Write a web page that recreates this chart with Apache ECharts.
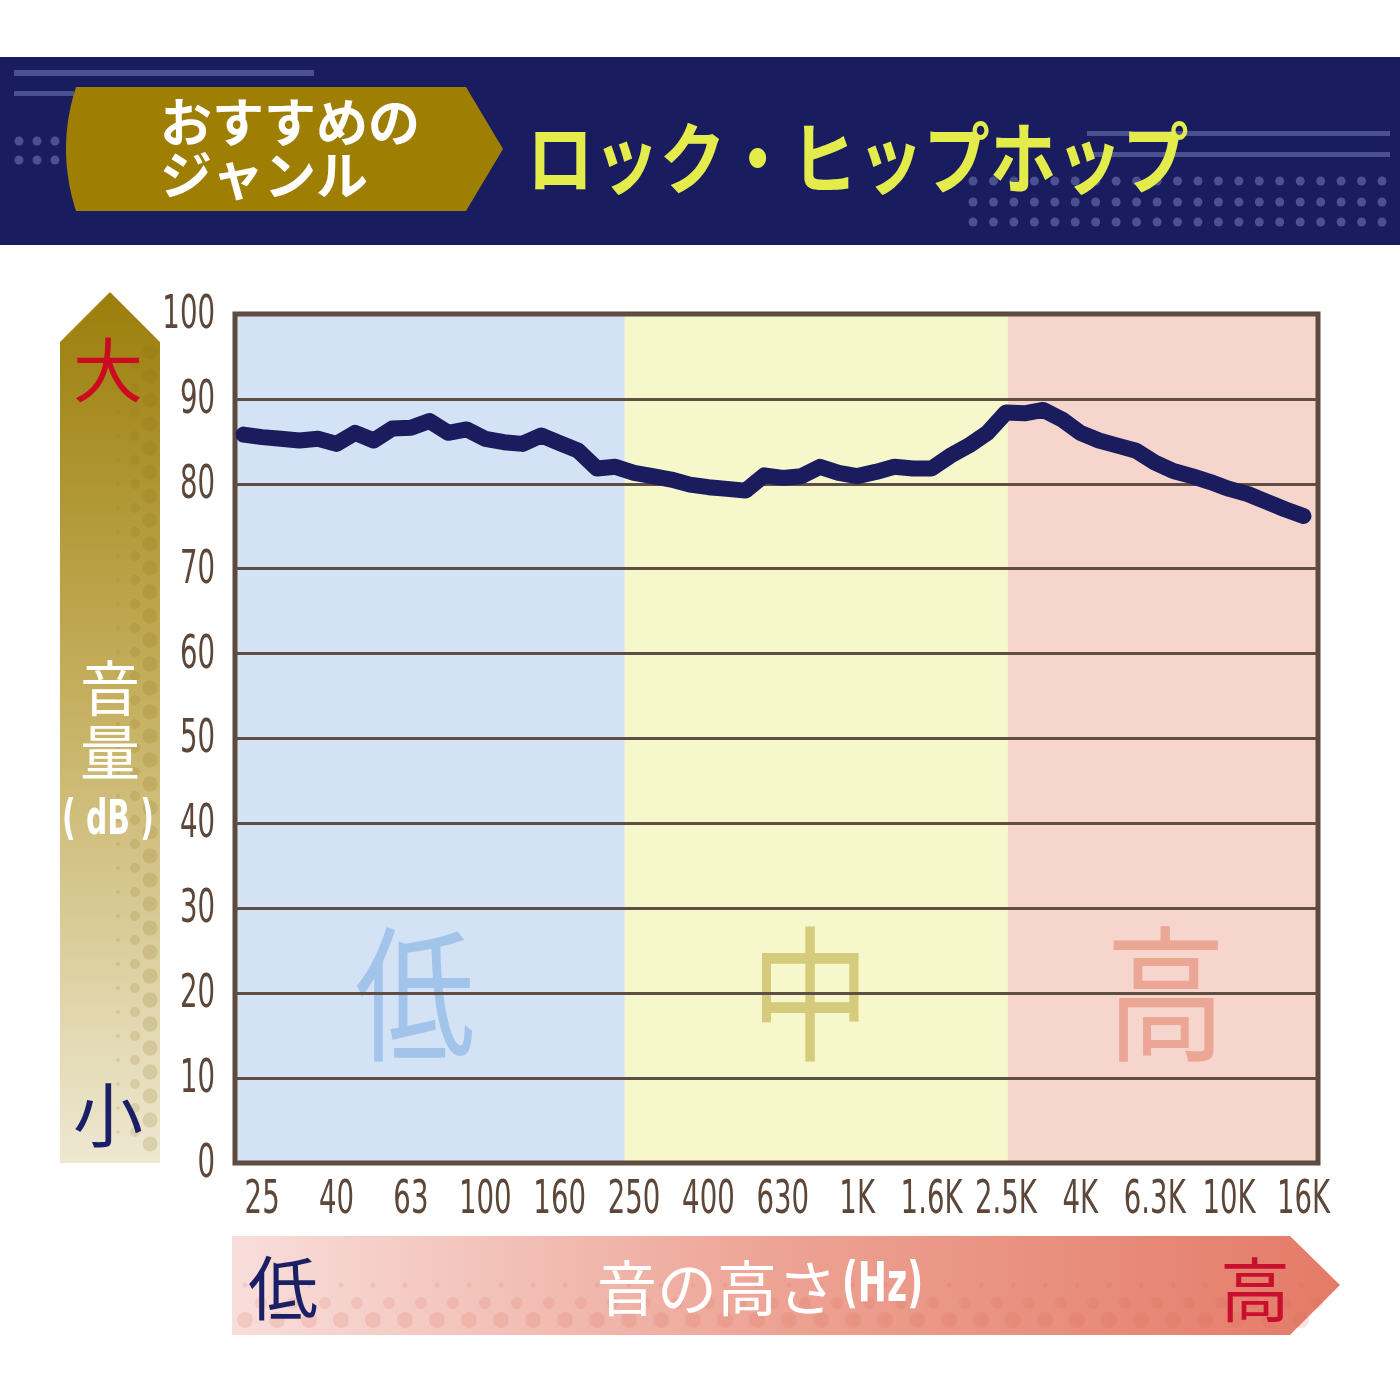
<!DOCTYPE html>
<html>
<head>
<meta charset="utf-8">
<script src="https://cdn.jsdelivr.net/npm/echarts@6/dist/echarts.min.js"></script>
<style>
  html, body { margin: 0; padding: 0; background: #fff; }
  #main { width: 1400px; height: 1400px; }
</style>
</head>
<body>
<div id="main"></div>
<script>
// x-axis tick labels, placed every 2nd third-octave band
const freqLabels = ['25', '40', '63', '100', '160', '250', '400', '630', '1K', '1.6K', '2.5K', '4K', '6.3K', '10K', '16K'];
const labelSteps = [0, 2, 4, 6, 8, 10, 12, 14, 16, 18, 20, 22, 24, 26, 28];

// measured level (dB), 1/6-octave points starting half a band below 25Hz
const levels = [
  85.8, 85.5, 85.3, 85.1, 85.3, 84.7, 86.0, 85.1, 86.5, 86.6,
  87.4, 86.0, 86.4, 85.3, 84.9, 84.7, 85.7, 84.8, 83.9, 81.8,
  82.0, 81.3, 80.9, 80.5, 79.9, 79.6, 79.4, 79.2, 81.0, 80.7,
  80.9, 82.0, 81.3, 80.9, 81.4, 82.0, 81.8, 81.8, 83.3, 84.5,
  86.0, 88.4, 88.3, 88.7, 87.6, 86.0, 85.1, 84.5, 83.9, 82.5,
  81.5, 80.9, 80.2, 79.4, 78.8, 77.9, 77.0, 76.2
];
const firstStep = -0.5;
const stepSize = 0.5;

// low / mid / high bands
const zoneNames = ['低', '中', '高'];
const zoneEdges = [-0.73, 9.75, 20.05, 28.39];
const zoneFill = ['#d3e3f5', '#f6f7cb', '#f6d5cd'];
const zoneText = ['#a3c4ea', '#d5cb7c', '#eca696'];
const zoneOffset = [-15, -6, 3];
const zoneTextLevel = 20;

const yTicks = [0, 100, 10];
const yLabels = ['0', '10', '20', '30', '40', '50', '60', '70', '80', '90', '100'];

const JP = "'Noto Sans CJK JP', sans-serif";
const COND = "'DejaVu Sans', sans-serif";
const BROWN = '#5c4739';

const chart = echarts.init(document.getElementById('main'));

const lineData = levels.map((v, i) => [firstStep + i * stepSize, v]);

const zoneData = zoneNames.map((name, i) => [
  { name: name, xAxis: zoneEdges[i], yAxis: yTicks[0], itemStyle: { color: zoneFill[i] } },
  { xAxis: zoneEdges[i + 1], yAxis: yTicks[1] }
]);

// helpers for the decorations
function dots(xs, ys, r, fill) {
  const out = [];
  ys.forEach(y => xs.forEach(x => {
    out.push({ type: 'circle', shape: { cx: x, cy: y, r: r }, style: { fill: fill }, silent: true });
  }));
  return out;
}
function range(a, b, s) {
  const r = [];
  for (let v = a; v <= b + 0.01; v += s) r.push(v);
  return r;
}
// tag shape with a bowed left side
function tagPoints() {
  const pts = [[76, 87], [466, 87], [503, 149], [466, 211], [76, 211]];
  for (let t = 0.05; t < 1; t += 0.05) {
    const u = 1 - t;
    pts.push([u * u * 76 + 2 * u * t * 56 + t * t * 76, u * u * 211 + 2 * u * t * 149 + t * t * 87]);
  }
  return pts;
}
function txt(x, y, text, font, fill, align, sx) {
  return {
    type: 'text', x: x, y: y, scaleX: sx || 1,
    style: { text: text, fill: fill, font: font, align: align || 'center', verticalAlign: 'middle' }
  };
}

const graphics = [
  // header band
  { type: 'rect', shape: { x: 0, y: 57, width: 1400, height: 188 }, style: { fill: '#191c5f' } },
  { type: 'rect', shape: { x: 14, y: 70, width: 300, height: 6 }, style: { fill: '#4b5091' } },
  { type: 'rect', shape: { x: 14, y: 91, width: 60, height: 5 }, style: { fill: '#4b5091' } },
  { type: 'rect', shape: { x: 1087, y: 131, width: 303, height: 5 }, style: { fill: '#4b5091' } },
  { type: 'rect', shape: { x: 1087, y: 152, width: 303, height: 5 }, style: { fill: '#4b5091' } },
  ...dots([19, 37, 55], [141, 160], 4.5, '#4b5091'),
  ...dots(range(973, 1382, 20.45), [181, 202, 222], 4.5, '#4b5091'),
  { type: 'polygon', shape: { points: tagPoints() }, style: { fill: '#9e7f04' } },
  txt(160, 122, 'おすすめの', 'bold 52px ' + JP, '#fff', 'left'),
  txt(160, 175, 'ジャンル', 'bold 52px ' + JP, '#fff', 'left'),
  txt(527, 158, 'ロック・ヒップホップ', 'bold 78px ' + JP, '#e3ec4a', 'left', 0.85),

  // vertical arrow (volume)
  {
    type: 'polygon',
    shape: { points: [[110, 292], [160, 342], [160, 1163], [60, 1163], [60, 342]] },
    style: {
      fill: {
        type: 'linear', x: 0, y: 0, x2: 0, y2: 1,
        colorStops: [{ offset: 0, color: '#9b7e0b' }, { offset: 0.45, color: '#c4ae5c' }, { offset: 1, color: '#eee8d2' }]
      }
    }
  },
  ...dots([150], range(352, 1150, 24), 7.5, 'rgba(140,110,20,0.18)'),
  ...dots([135], range(364, 1150, 24), 5, 'rgba(140,110,20,0.16)'),
  ...dots([118], range(364, 1150, 24), 2, 'rgba(140,110,20,0.16)'),
  txt(108, 370, '大', '70px ' + JP, '#cc0a22'),
  txt(110, 688, '音', '60px ' + JP, '#fff'),
  txt(110, 752, '量', '60px ' + JP, '#fff'),
  txt(108, 822, '( dB )', 'bold 48px ' + COND, '#fff', 'center', 0.62),
  txt(108, 1115, '小', '70px ' + JP, '#1a1f66'),

  // horizontal arrow (pitch)
  {
    type: 'polygon',
    shape: { points: [[232, 1236], [1290, 1236], [1340, 1285], [1290, 1335], [232, 1335]] },
    style: {
      fill: {
        type: 'linear', x: 0, y: 0, x2: 1, y2: 0,
        colorStops: [{ offset: 0, color: '#f8dedb' }, { offset: 0.5, color: '#eda293' }, { offset: 1, color: '#e47b68' }]
      }
    }
  },
  ...dots(range(245, 1330, 32), [1320], 8, 'rgba(215,100,80,0.16)'),
  ...dots(range(261, 1330, 32), [1303], 6, 'rgba(215,100,80,0.14)'),
  ...dots(range(245, 1330, 32), [1285], 2.5, 'rgba(215,100,80,0.14)'),
  txt(283, 1288, '低', '70px ' + JP, '#1a1f66'),
  txt(597, 1288, '音の高さ', '60px ' + JP, '#fff', 'left'),
  txt(842, 1286, '(Hz)', 'bold 56px ' + COND, '#fff', 'left', 0.62),
  txt(1255, 1290, '高', '70px ' + JP, '#c8102e')
];

const option = {
  backgroundColor: '#ffffff',
  animation: false,
  grid: {
    left: 235, right: 82, top: 314, bottom: 237,
    show: true,
    z: 3,
    backgroundColor: 'transparent',
    borderColor: '#5e4a3c',
    borderWidth: 5
  },
  xAxis: {
    type: 'value',
    z: 3,
    min: zoneEdges[0],
    max: zoneEdges[zoneEdges.length - 1],
    axisLine: { show: false },
    axisTick: { show: false },
    splitLine: { show: false },
    axisLabel: { show: false }
  },
  yAxis: {
    type: 'value',
    z: 3,
    min: yTicks[0],
    max: yTicks[1],
    interval: yTicks[2],
    axisLine: { show: false },
    axisTick: { show: false },
    splitLine: { lineStyle: { color: '#5e4e44', width: 3 } },
    axisLabel: { show: false }
  },
  series: [
    {
      type: 'line',
      z: 1,
      data: [],
      silent: true,
      markArea: { silent: true, label: { show: false }, data: zoneData }
    },
    {
      type: 'line',
      z: 6,
      data: lineData,
      symbol: 'none',
      silent: true,
      lineStyle: { color: '#1a1c5e', width: 16, cap: 'round', join: 'round' }
    }
  ],
  graphic: graphics
};

chart.setOption(option);

// condensed tick labels and zone captions, placed through the chart's own scales
const toPx = (x, y) => chart.convertToPixel({ gridIndex: 0 }, [x, y]);
const extra = [];
labelSteps.forEach((s, i) => {
  const p = toPx(s, 0);
  extra.push(txt(p[0], p[1] + 38, freqLabels[i], '46px ' + COND, BROWN, 'center', 0.6));
});
yLabels.forEach(lbl => {
  const p = toPx(zoneEdges[0], Number(lbl));
  extra.push(txt(p[0] - 20, p[1] + 2, lbl, '46px ' + COND, BROWN, 'right', 0.6));
});
zoneNames.forEach((name, i) => {
  const a = toPx(zoneEdges[i], zoneTextLevel);
  const b = toPx(zoneEdges[i + 1], zoneTextLevel);
  const t = txt((a[0] + b[0]) / 2 + zoneOffset[i], a[1], name, '146px ' + JP, zoneText[i], 'center', 0.82);
  t.z = 2;
  extra.push(t);
});
chart.setOption({ graphic: graphics.concat(extra) });

window.addEventListener('resize', () => chart.resize());
</script>
</body>
</html>
